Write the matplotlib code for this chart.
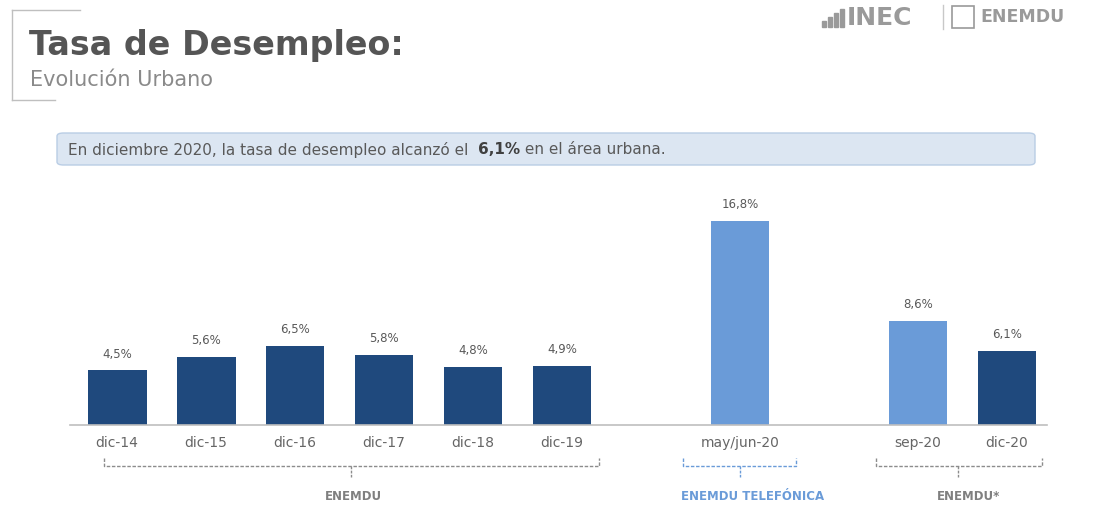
import matplotlib.pyplot as plt
from matplotlib.patches import FancyBboxPatch, Rectangle
from matplotlib.lines import Line2D
from matplotlib.transforms import blended_transform_factory

# data
labels = ["dic-14", "dic-15", "dic-16", "dic-17", "dic-18", "dic-19",
          "may/jun-20", "sep-20", "dic-20"]
values = [4.5, 5.6, 6.5, 5.8, 4.8, 4.9, 16.8, 8.6, 6.1]
positions = [0, 1, 2, 3, 4, 5, 7, 9, 10]
dark_bar = [True, True, True, True, True, True, False, False, True]

groups = ["ENEMDU", "ENEMDU TELEFÓNICA", "ENEMDU*"]
group_span = [(-0.15, 5.42), (6.36, 7.63), (8.53, 10.39)]
group_mid = [2.63, 7.0, 9.45]
group_text_x = [2.66, 7.14, 9.57]

DARK = "#1F497D"
LIGHT = "#6A9BD8"
GRAY = "#595959"

W, H = 1097, 518
fig = plt.figure(figsize=(W / 100, H / 100), dpi=100)
fig.patch.set_facecolor("white")


def fx(x):
    return x / W


def fy(y):
    return 1 - y / H


ax = fig.add_axes([fx(70), fy(425), fx(1047) - fx(70), fy(190) - fy(425)])
colors = [DARK if d else LIGHT for d in dark_bar]
bars = ax.bar(positions, values, width=0.66, color=colors, zorder=2)
for p, v in zip(positions, values):
    ax.annotate(f"{v:.1f}%".replace(".", ","), (p, v), xytext=(0, 7),
                textcoords="offset points", ha="center", va="bottom",
                fontsize=8.5, color=GRAY)

ax.set_xlim(-0.53, 10.45)
ax.set_ylim(0, 19.36)
ax.set_xticks(positions)
ax.set_xticklabels(labels, fontsize=10, color="#666666")
ax.tick_params(axis="x", length=0, pad=8)
ax.set_yticks([])
for s in ["top", "right", "left"]:
    ax.spines[s].set_visible(False)
ax.spines["bottom"].set_color("#BFBFBF")
ax.spines["bottom"].set_linewidth(1.2)
ax.patch.set_alpha(0)

# group brackets under the axis
tr = blended_transform_factory(ax.transData, fig.transFigure)
bracket_colors = ["#8C8C8C", LIGHT, "#8C8C8C"]
text_colors = ["#7F7F7F", LIGHT, "#7F7F7F"]
dash = (0, (2.5, 1.2))
for name, (a, b), m, tx, bc, tc in zip(groups, group_span, group_mid,
                                         group_text_x, bracket_colors, text_colors):
    y0, y1, y2 = fy(466), fy(458), fy(477)
    ax.add_line(Line2D([a, a, b, b], [y1, y0, y0, y1], transform=tr,
                       color=bc, lw=1, ls=dash, clip_on=False))
    ax.add_line(Line2D([m, m], [y0, y2], transform=tr, color=bc, lw=1,
                       ls=(0, (2, 1)), clip_on=False))
    ax.text(tx, fy(496), name, transform=tr, ha="center", va="center",
            fontsize=8.5, fontweight="bold", color=tc)

# title block
fig.add_artist(Line2D([fx(12), fx(80)], [fy(10), fy(10)], color="#BFBFBF", lw=1))
fig.add_artist(Line2D([fx(12), fx(12)], [fy(10), fy(100)], color="#BFBFBF", lw=1))
fig.add_artist(Line2D([fx(12), fx(55)], [fy(100), fy(100)], color="#BFBFBF", lw=1))
fig.text(fx(29), fy(45), "Tasa de Desempleo:", fontsize=24, fontweight="bold",
         color="#555555", va="center", ha="left")
fig.text(fx(30), fy(80), "Evolución Urbano", fontsize=15, color="#8A8A8A",
         va="center", ha="left")

# logo
for i, hgt in enumerate([6, 10, 14, 18]):
    fig.add_artist(Rectangle((fx(822 + i * 6), fy(27)), fx(4), hgt / H,
                             color="#9A9A9A"))
fig.text(fx(847), fy(18), "INEC", fontsize=18, fontweight="bold",
         color="#9A9A9A", va="center", ha="left")
fig.add_artist(Line2D([fx(943), fx(943)], [fy(5), fy(29)], color="#C8C8C8", lw=1))
fig.add_artist(Rectangle((fx(952), fy(28)), fx(22), 22 / H, fill=False,
                         ec="#9A9A9A", lw=1.2))
fig.text(fx(980), fy(17), "ENEMDU", fontsize=12.5, fontweight="bold",
         color="#9A9A9A", va="center", ha="left")

# info box
box = FancyBboxPatch((fx(57), fy(165)), fx(1035) - fx(57), fy(133) - fy(165),
                     boxstyle="round,pad=0,rounding_size=0.006",
                     transform=fig.transFigure, fc="#DCE6F2", ec="#B9CDE5", lw=1)
fig.add_artist(box)
t1 = fig.text(fx(68), fy(150), "En diciembre 2020, la tasa de desempleo alcanzó el  ",
              fontsize=11, color="#595959", va="center", ha="left")
fig.canvas.draw()
r = fig.canvas.get_renderer()
e1 = t1.get_window_extent(r)
t2 = fig.text(e1.x1 / W, fy(150), "6,1%", fontsize=11, fontweight="bold",
              color="#404040", va="center", ha="left")
e2 = t2.get_window_extent(r)
fig.text(e2.x1 / W, fy(150), " en el área urbana.", fontsize=11,
         color="#595959", va="center", ha="left")

fig.savefig("out.png", dpi=100)
